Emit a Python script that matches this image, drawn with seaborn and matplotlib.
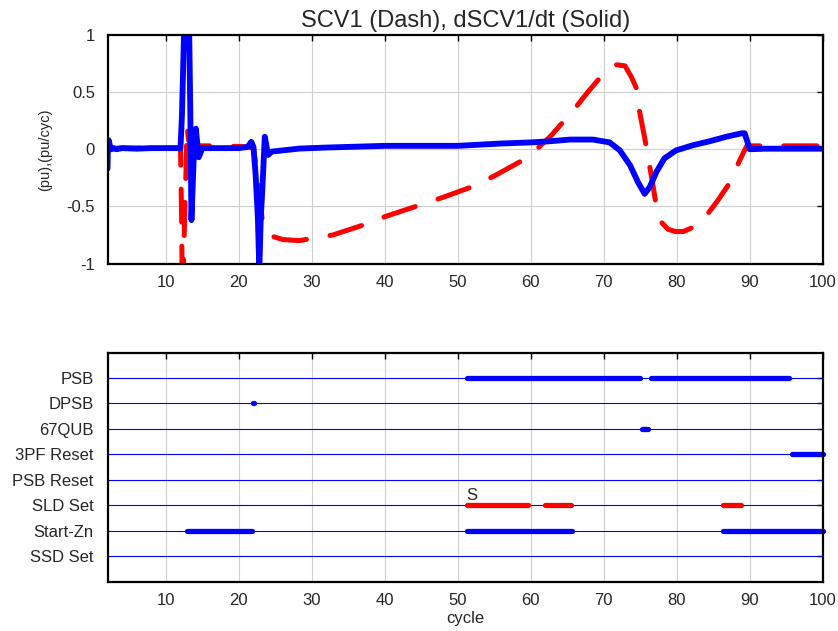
import pandas as pd
import seaborn as sns
import matplotlib
matplotlib.use("Agg")
import matplotlib.pyplot as plt

# --- top panel: SCV1 (dashed red) and dSCV1/dt (solid blue) ---
dscv_x = [2.0, 2.05, 2.15, 2.3, 2.5, 2.8, 3.2, 4.0, 6.0, 8.0, 10.0, 12.0, 12.2, 12.5, 12.7,
          13.0, 13.2, 13.35, 13.5, 13.8, 14.1, 14.5, 15.0, 17.0, 20.0, 21.2, 21.7, 22.0, 22.3,
          22.6, 22.8, 23.0, 23.2, 23.55, 24.0, 24.5, 26.0, 28.3, 32.0, 40.0, 50.0, 55.8, 60.0,
          62.6, 65.4, 68.5, 70.8, 72.2, 73.6, 74.7, 75.6, 76.3, 77.2, 78.3, 79.9, 82.2, 84.5,
          86.8, 88.9, 89.3, 90.0, 92.0, 95.0, 100.0]
dscv_y = [-0.17, 0.0, 0.08, 0.04, 0.0, 0.01, 0.0, 0.01, 0.005, 0.01, 0.01, 0.01, 0.3, 1.05, 1.05,
          1.05, 1.0, 0.3, -0.62, -0.1, 0.18, -0.07, 0.01, 0.01, 0.01, 0.02, 0.065, 0.02, -0.23,
          -0.6, -1.05, -0.6, -0.37, 0.11, -0.05, -0.02, -0.01, 0.006, 0.015, 0.03, 0.03, 0.05, 0.06,
          0.07, 0.085, 0.085, 0.06, -0.01, -0.14, -0.29, -0.39, -0.33, -0.2, -0.08, -0.01, 0.035, 0.07,
          0.11, 0.14, 0.14, 0.0, 0.005, 0.005, 0.005]

scv_x = [2.0, 6.0, 12.0, 12.15, 12.25, 12.4, 12.6, 12.75, 12.9, 13.1, 13.6, 16.0, 20.0, 21.5,
         22.0, 22.4, 22.8, 23.3, 23.8, 24.5, 26.0, 28.3, 30.0, 32.9, 37.2, 40.0, 45.2, 48.0,
         52.3, 55.1, 58.5, 60.8, 62.8, 66.2, 67.8, 69.8, 71.7, 72.9, 73.8, 74.5, 74.9, 75.6,
         76.1, 76.8, 77.2, 77.9, 78.8, 79.8, 80.9, 82.7, 84.3, 85.6, 87.3, 88.6, 89.2, 89.6,
         92.0, 100.0]
scv_y = [0.01, 0.01, 0.01, -0.6, -1.3, -1.05, -0.5, -0.2, 0.2, 0.08, 0.03, 0.03, 0.025, 0.02,
         0.0, -0.17, -0.4, -0.67, -0.73, -0.76, -0.79, -0.8, -0.78, -0.75, -0.66, -0.59, -0.48, -0.42,
         -0.32, -0.23, -0.11, 0.0, 0.12, 0.37, 0.5, 0.65, 0.74, 0.73, 0.63, 0.53, 0.33, 0.1,
         -0.08, -0.34, -0.5, -0.64, -0.7, -0.72, -0.72, -0.67, -0.56, -0.45, -0.29, -0.1, -0.02, 0.03,
         0.03, 0.03]

# --- bottom panel: digital signals (top to bottom) ---
signals = ["PSB", "DPSB", "67QUB", "3PF Reset", "PSB Reset", "SLD Set", "Start-Zn", "SSD Set"]
psb_on = [(51.3, 75.0), (76.5, 95.4)]
dpsb_on = [(21.95, 22.05)]
qub_on = [(75.2, 76.0)]
pf3_reset_on = [(95.8, 100.0)]
psb_reset_on = []
sld_set_on = [(51.3, 59.6), (62.0, 65.5), (86.3, 88.8)]
start_zn_on = [(12.9, 21.8), (51.3, 65.6), (86.3, 100.0)]
ssd_set_on = []
signal_on = [psb_on, dpsb_on, qub_on, pf3_reset_on, psb_reset_on, sld_set_on, start_zn_on, ssd_set_on]
red_signals = ["SLD Set"]

sns.set_style("white")
plt.rcParams["font.family"] = ["Liberation Sans", "DejaVu Sans"]

fig = plt.figure(figsize=(8.38, 6.31), dpi=100)
ax1 = fig.add_axes([0.1283, 0.5824, 0.8535, 0.3621])
ax2 = fig.add_axes([0.1283, 0.0781, 0.8535, 0.3620])

grid_kw = dict(color="#cfcfcf", linewidth=0.8, linestyle="-")

# top
sns.lineplot(x=scv_x, y=scv_y, ax=ax1, sort=False, estimator=None, color="#ff0000",
             linewidth=3.6, linestyle=(0, (6.6, 4.8)), dash_capstyle="round", zorder=3)
sns.lineplot(x=dscv_x, y=dscv_y, ax=ax1, sort=False, estimator=None, color="#0000ff",
             linewidth=4.2, solid_capstyle="round", solid_joinstyle="round", zorder=4)
ax1.set_xlim(2, 100)
ax1.set_ylim(-1, 1)
ax1.set_xticks(range(10, 101, 10))
ax1.set_yticks([-1, -0.5, 0, 0.5, 1])
ax1.set_yticklabels(["-1", "-0.5", "0", "0.5", "1"])
ax1.grid(True, **grid_kw)
ax1.set_title("SCV1 (Dash), dSCV1/dt (Solid)", fontsize=17, pad=6)
ax1.set_ylabel("(pu),(pu/cyc)", fontsize=10.5)
ax1.yaxis.set_label_coords(-0.078, 0.5)
ax1.tick_params(axis="x", pad=8)
ax1.tick_params(axis="y", pad=9)

# bottom
n = len(signals)
rows = {s: n - i for i, s in enumerate(signals)}
base = pd.DataFrame([(s, x, rows[s]) for s in signals for x in (2, 100)],
                    columns=["signal", "x", "y"])
sns.lineplot(data=base, x="x", y="y", units="signal", estimator=None, ax=ax2,
             color="#0000ff", linewidth=0.8, zorder=2)

seg_rows = []
k = 0
for s, segs in zip(signals, signal_on):
    for a, b in segs:
        seg_rows.append((k, s, a, rows[s]))
        seg_rows.append((k, s, b, rows[s]))
        k += 1
segs_df = pd.DataFrame(seg_rows, columns=["seg", "signal", "x", "y"])
for colr, sub in [("#0000ff", segs_df[~segs_df["signal"].isin(red_signals)]),
                  ("#ff0000", segs_df[segs_df["signal"].isin(red_signals)])]:
    sns.lineplot(data=sub, x="x", y="y", units="seg", estimator=None, ax=ax2,
                 color=colr, linewidth=3.8, solid_capstyle="round", zorder=3)
for line in ax2.lines:
    line.set_clip_on(False)

ax2.text(51.2, rows["SLD Set"] + 0.2, "S", fontsize=12, ha="left", va="baseline")
ax2.set_xlim(2, 100)
ax2.set_ylim(0, 8.95)
ax2.set_xticks(range(10, 101, 10))
ax2.set_yticks([rows[s] for s in signals])
ax2.set_yticklabels(signals)
ax2.grid(True, axis="x", **grid_kw)
ax2.set_xlabel("cycle", fontsize=12, labelpad=2)
ax2.set_ylabel("")
ax2.tick_params(axis="x", pad=8)
ax2.tick_params(axis="y", pad=10)

for ax in (ax1, ax2):
    ax.tick_params(direction="in", top=True, right=True, length=4, width=1,
                   color="black", labelsize=12)
    for sp in ax.spines.values():
        sp.set_visible(True)
        sp.set_linewidth(1.6)
        sp.set_color("black")
        sp.set_zorder(5)
    ax.set_axisbelow(True)

fig.savefig("out.png", dpi=100)
